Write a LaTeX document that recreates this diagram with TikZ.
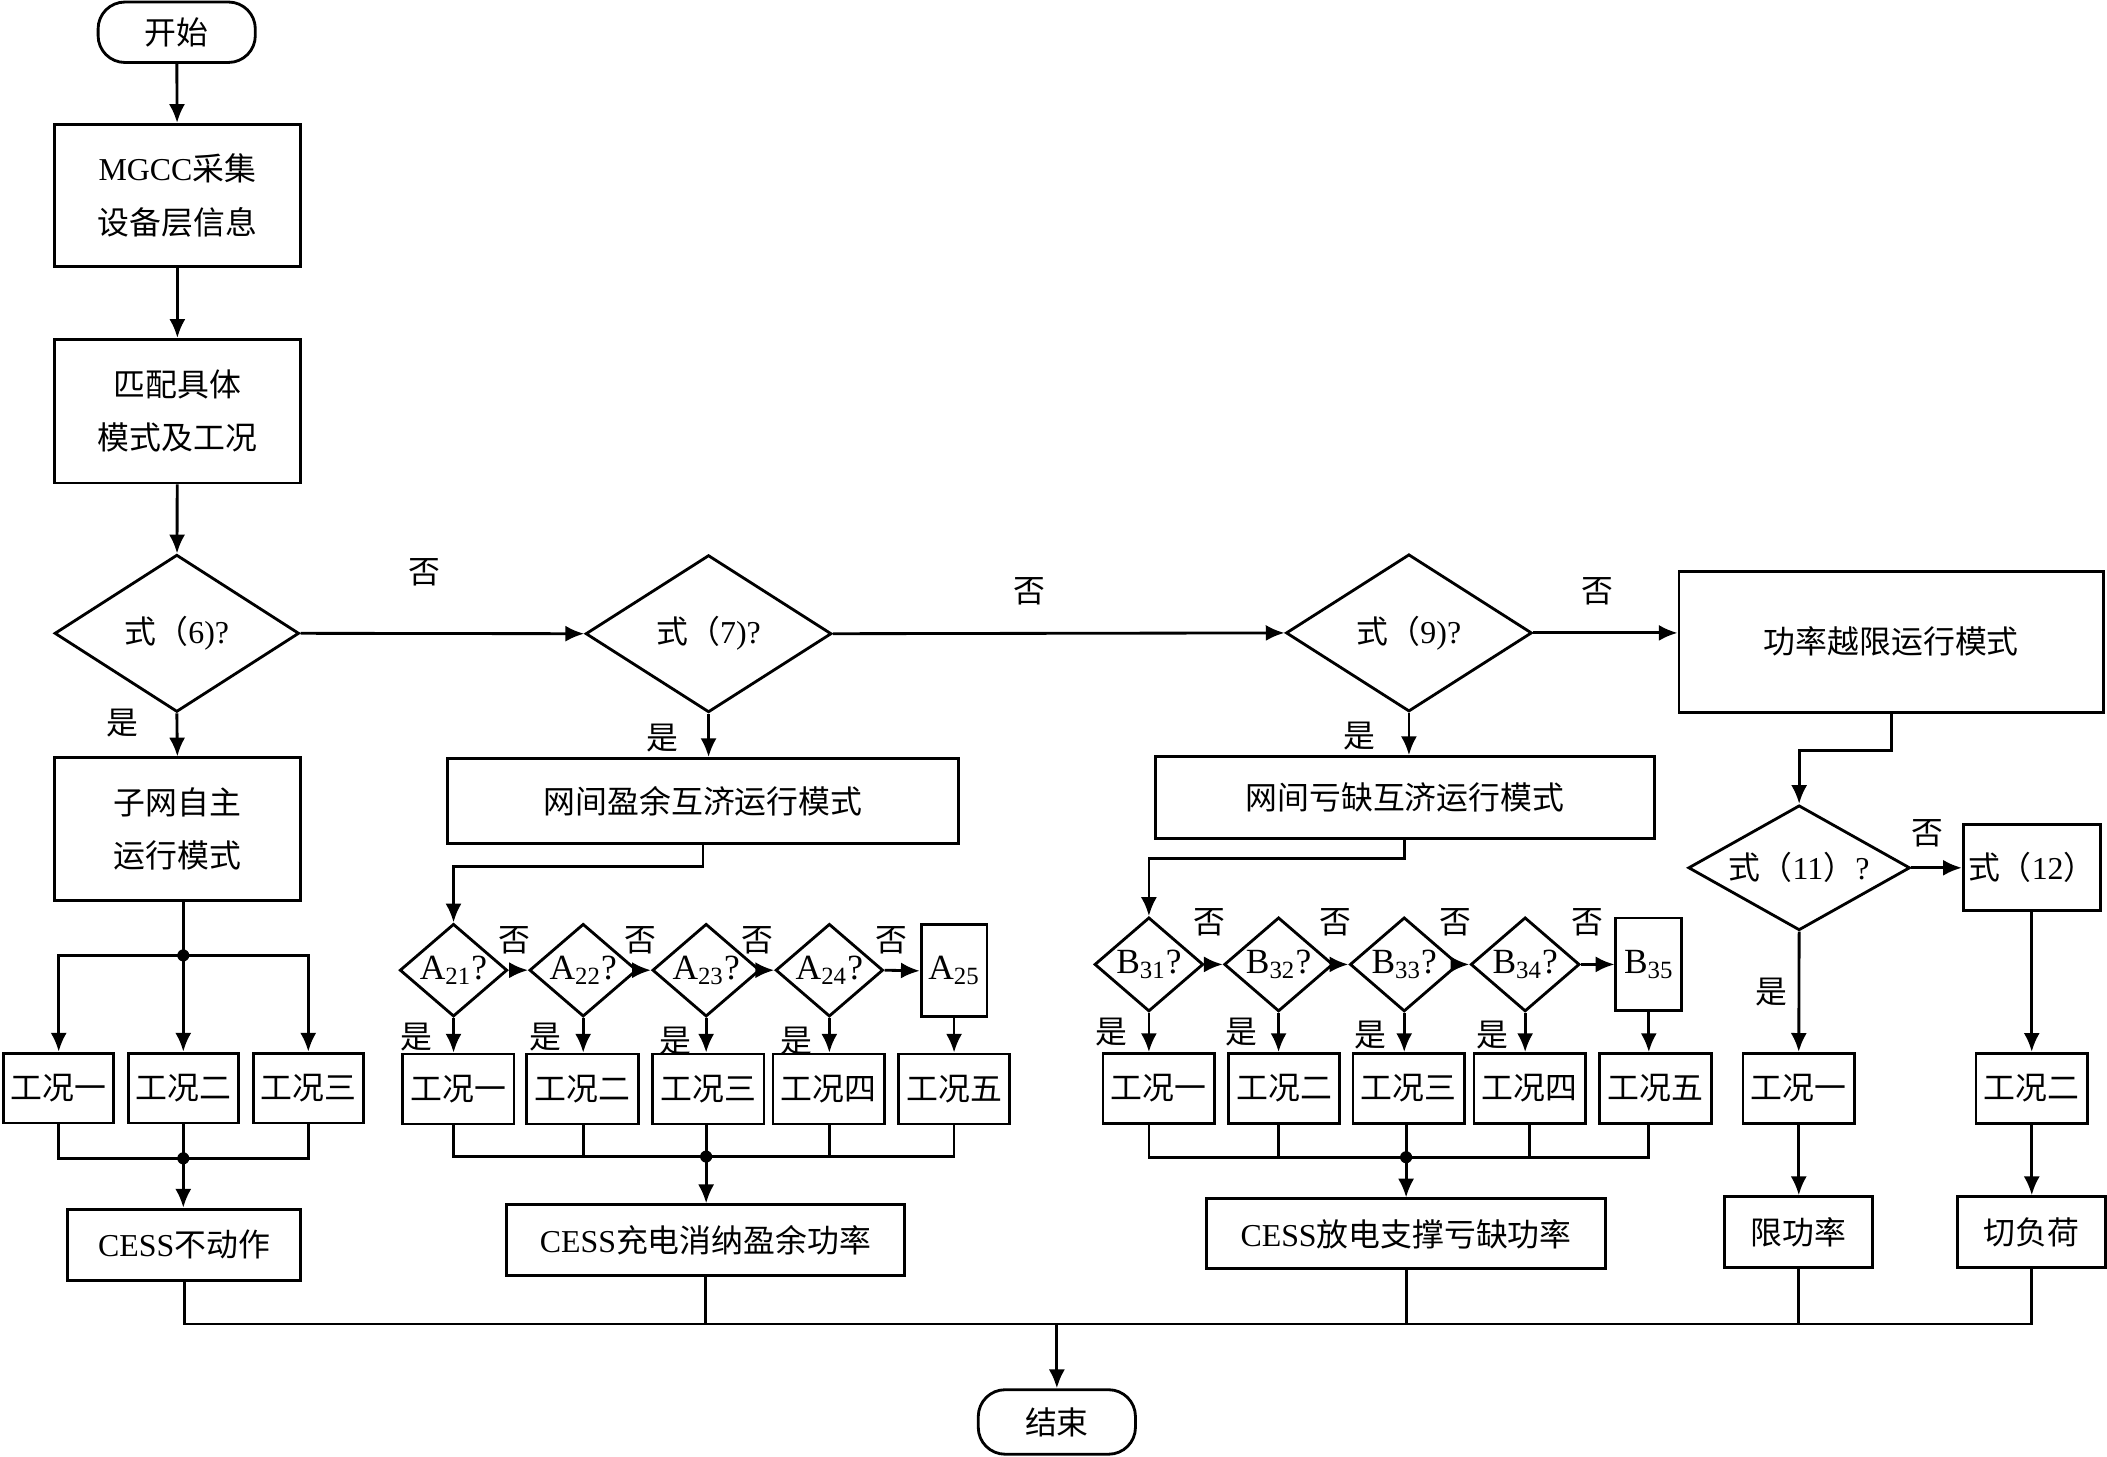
\documentclass[tikz,border=0pt]{standalone}
\usepackage{fontspec}
\setmainfont{Liberation Serif}
\newfontfamily\cjk{Noto Sans CJK SC}
\usetikzlibrary{arrows.meta,shapes.geometric}
\tikzset{
 wh/.style 2 args={minimum width=#1*0.02cm,minimum height=#2*0.02cm},
 box/.style={draw,align=center,inner sep=0pt},
 term/.style={box,rounded corners=0.4cm},
 cond/.style={draw,diamond,inner sep=0pt},
 casebox/.style={box,wh={83}{52}},
 tag/.style={inner sep=0pt},
 sym/.style={font=\rmfamily\fontsize{15}{18}\selectfont},
}

\begin{document}
\begin{tikzpicture}[x=0.02cm,y=-0.02cm,line width=1.2pt,font=\cjk\fontsize{13.5}{22.5}\selectfont,>={Latex[length=2.8mm,width=2.4mm]}]
\useasboundingbox (0,0) rectangle (1568,1084);
% main column
\node[term,wh={117}{45}] (start) at (131.5,24) {开始};
\node[box,wh={183}{106}] (info) at (132,145.5) {\textrm{MGCC}采集\\设备层信息};
\node[box,wh={183}{107}] (match) at (132,306) {匹配具体\\模式及工况};
\node[cond,aspect=1.56,wh={182}{117}] (d6) at (131.6,471.3) {式（\textrm{6)?}};
\node[cond,aspect=1.56,wh={183}{117}] (d7) at (527.3,471.6) {式（\textrm{7)?}};
\node[cond,aspect=1.56,wh={183}{117}] (d9) at (1048.5,471) {式（\textrm{9)?}};
\node[box,wh={316}{105}] (over) at (1407.5,477.5) {功率越限运行模式};
\draw[->] (start) -- (info);
\draw[->] (info) -- (match);
\draw[->] (match) -- (d6);
\draw[->] (d6.east) -- (d7.west);
\draw[->] (d7.east) -- (d9.west);
\draw[->] (d9.east) -- (d9.east -| over.west);
\node[tag] (no1) at (316,426) {否};
\node[tag] (no2) at (766,440) {否};
\node[tag] (no3) at (1189,440) {否};
\node[tag] (yes1) at (91,538) {是};
\node[tag] (yes2) at (493,549) {是};
\node[tag] (yes3) at (1012,548) {是};

% sub-grid autonomous mode
\node[box,wh={183}{106}] (auto) at (132,617) {子网自主\\运行模式};
\draw[->] (d6.south) -- (auto.north);
\node[casebox,wh={82}{52}] (g1) at (43.7,809.7) {工况一};
\node[casebox,wh={82}{52}] (g2) at (136.4,809.7) {工况二};
\node[casebox,wh={82}{52}] (g3) at (229.4,809.7) {工况三};
\node[box,wh={173}{53}] (cess0) at (137,926.3) {\textrm{CESS}不动作};
\coordinate (fork0) at (136.4,711);
\coordinate (join0) at (136.4,862);
\draw (auto.south -| fork0) -- (fork0);
\draw[->] (fork0) -| (g1.north);
\draw[->] (fork0) -- (g2.north);
\draw[->] (fork0) -| (g3.north);
\draw (g1.south) |- (join0) -| (g3.south);
\draw (g2.south) -- (join0);
\draw[->] (join0) -- (join0 |- cess0.north);
\fill (fork0) circle (0.09cm); \fill (join0) circle (0.09cm);

% surplus mutual aid
\node[box,wh={380}{63}] (surplus) at (523.2,596) {网间盈余互济运行模式};
\draw[->] (d7.south) -- (d7.south |- surplus.north);
\node[cond,sym,aspect=1.16,wh={80}{69}] (a21) at (337.5,722) {A\textsubscript{21}?};
\node[cond,sym,aspect=1.16,wh={80}{69}] (a22) at (434,722) {A\textsubscript{22}?};
\node[cond,sym,aspect=1.16,wh={80}{69}] (a23) at (525.5,722) {A\textsubscript{23}?};
\node[cond,sym,aspect=1.16,wh={80}{69}] (a24) at (617.2,722) {A\textsubscript{24}?};
\node[box,sym,wh={49}{68.5}] (a25) at (710,722.5) {A\textsubscript{25}};
\node[casebox] (ga1) at (341,810.4) {工况一};
\node[casebox] (ga2) at (433.6,810.4) {工况二};
\node[casebox] (ga3) at (527,810.4) {工况三};
\node[casebox] (ga4) at (616.7,810.4) {工况四};
\node[casebox] (ga5) at (710,810.4) {工况五};
\node[box,wh={296}{53}] (cess1) at (525,923) {\textrm{CESS}充电消纳盈余功率};
\draw[->] (surplus.south) -- ++(0,16.5) -| (a21.north);
\draw[->] (a21.east) -- (a22.west);
\draw[->] (a22.east) -- (a23.west);
\draw[->] (a23.east) -- (a24.west);
\draw[->] (a24.east) -- (a25.west);
\draw[->] (a21.south) -- (a21.south |- ga1.north);
\draw[->] (a22.south) -- (a22.south |- ga2.north);
\draw[->] (a23.south) -- (a23.south |- ga3.north);
\draw[->] (a24.south) -- (a24.south |- ga4.north);
\draw[->] (a25.south) -- (a25.south |- ga5.north);
\coordinate (join1) at (525.5,860.7);
\draw (a21 |- ga1.south) |- (join1) -| (a25 |- ga5.south);
\draw (a22 |- ga2.south) -- (a22 |- join1) (a23 |- ga3.south) -- (join1) (a24 |- ga4.south) -- (a24 |- join1);
\draw[->] (join1) -- (join1 |- cess1.north);
\fill (join1) circle (0.09cm);
\node[tag] (no4) at (383,700) {否};
\node[tag] (no5) at (476.5,700) {否};
\node[tag] (no6) at (563.5,700) {否};
\node[tag] (no7) at (663.7,700) {否};
\node[tag] (yes4) at (310,772) {是};
\node[tag] (yes5) at (405.6,772) {是};
\node[tag] (yes6) at (502.5,775) {是};
\node[tag] (yes7) at (592.8,775) {是};

% deficit mutual aid
\node[box,wh={371}{61}] (deficit) at (1045.5,593.5) {网间亏缺互济运行模式};
\draw[->] (d9.south) -- (d9.south |- deficit.north);
\node[cond,sym,aspect=1.16,wh={81}{70}] (b31) at (855,717.7) {B\textsubscript{31}?};
\node[cond,sym,aspect=1.16,wh={81}{70}] (b32) at (951.5,717.7) {B\textsubscript{32}?};
\node[cond,sym,aspect=1.16,wh={81}{70}] (b33) at (1045,717.7) {B\textsubscript{33}?};
\node[cond,sym,aspect=1.16,wh={81}{70}] (b34) at (1135,717.7) {B\textsubscript{34}?};
\node[box,sym,wh={49}{69}] (b35) at (1227,717.7) {B\textsubscript{35}};
\node[casebox] (gb1) at (862.3,810) {工况一};
\node[casebox] (gb2) at (955.6,810) {工况二};
\node[casebox] (gb3) at (1048.4,810) {工况三};
\node[casebox] (gb4) at (1138.4,810) {工况四};
\node[casebox] (gb5) at (1232,810) {工况五};
\node[box,wh={297}{52}] (cess2) at (1046.4,918.2) {\textrm{CESS}放电支撑亏缺功率};
\draw[->] (deficit.south) -- ++(0,14) -| (b31.north);
\draw[->] (b31.east) -- (b32.west);
\draw[->] (b32.east) -- (b33.west);
\draw[->] (b33.east) -- (b34.west);
\draw[->] (b34.east) -- (b35.west);
\draw[->] (b31.south) -- (b31.south |- gb1.north);
\draw[->] (b32.south) -- (b32.south |- gb2.north);
\draw[->] (b33.south) -- (b33.south |- gb3.north);
\draw[->] (b34.south) -- (b34.south |- gb4.north);
\draw[->] (b35.south) -- (b35.south |- gb5.north);
\coordinate (join2) at (1046.4,861.2);
\draw (b31 |- gb1.south) |- (join2) -| (b35 |- gb5.south);
\draw (b32 |- gb2.south) -- (b32 |- join2) (join2 |- gb3.south) -- (join2) (gb4.south) -- (gb4.south |- join2);
\draw[->] (join2) -- (join2 |- cess2.north);
\fill (join2) circle (0.09cm);
\node[tag] (no8) at (900,686) {否};
\node[tag] (no9) at (994,686) {否};
\node[tag] (no10) at (1083,686) {否};
\node[tag] (no11) at (1181,686) {否};
\node[tag] (yes8) at (827,768) {是};
\node[tag] (yes9) at (924,768) {是};
\node[tag] (yes10) at (1020,770) {是};
\node[tag] (yes11) at (1111,770) {是};

% power over limit
\node[cond,aspect=1.77,wh={165}{93}] (d11) at (1338.9,645.8) {式（\textrm{11}）\textrm{?}};
\node[box,wh={102}{64}] (f12) at (1512,645.8) {式（\textrm{12}）};
\node[casebox] (gp1) at (1338.6,809.8) {工况一};
\node[casebox] (gp2) at (1512,809.8) {工况二};
\node[box,wh={110}{53}] (lim) at (1338.6,917) {限功率};
\node[box,wh={110}{53}] (cut) at (1512,917) {切负荷};
\draw[->] (over.south) -- ++(0,27.3) -| (d11.north);
\draw[->] (d11.east) -- (f12.west);
\draw[->] (d11.south) -- (gp1.north);
\draw[->] (f12.south) -- (gp2.north);
\draw[->] (gp1) -- (lim);
\draw[->] (gp2) -- (cut);
\node[tag] (no12) at (1434,620) {否};
\node[tag] (yes12) at (1318,738) {是};

% end
\node[term,wh={117}{48}] (end) at (786.5,1058.2) {结束};
\coordinate (joinE) at (786.5,985.3);
\draw (cess0.south) |- (joinE) -| (cut.south);
\draw (cess1.south) -- (cess1.south |- joinE) (cess2.south) -- (cess2.south |- joinE) (lim.south) -- (lim.south |- joinE);
\draw[->] (joinE) -- (end.north);
\end{tikzpicture}
\end{document}
